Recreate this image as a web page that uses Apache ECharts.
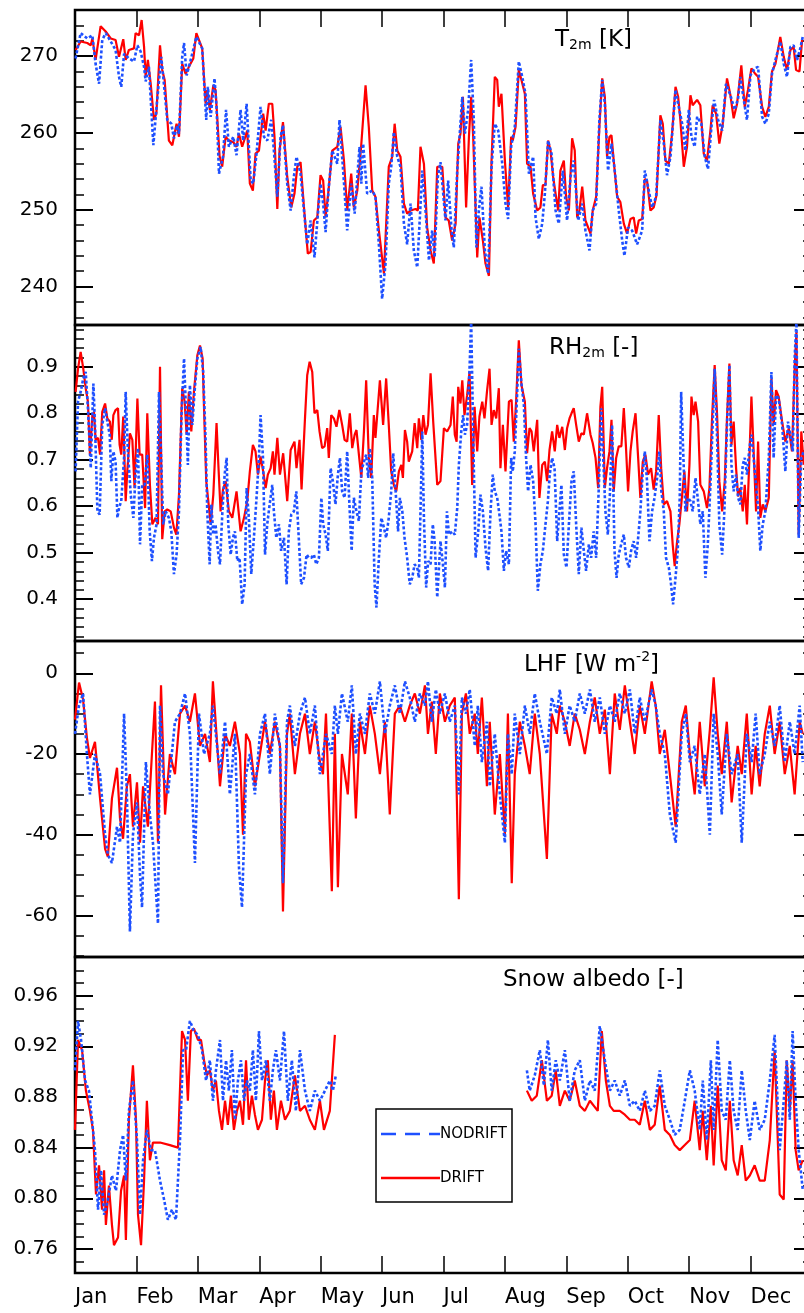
<!DOCTYPE html>
<html><head><meta charset="utf-8">
<script src="https://cdn.jsdelivr.net/npm/echarts@6/dist/echarts.min.js"></script>
<style>html,body{margin:0;padding:0;background:#fff}#c{width:804px;height:1313px}</style>
</head><body><div id="c"></div>
<script>
const months = ['Jan','Feb','Mar','Apr','May','Jun','Jul','Aug','Sep','Oct','Nov','Dec'];
const seriesNames = ['NODRIFT','DRIFT'];

const t2mDrift = [[0.3,270.8],[2.8,271.9],[6.1,271.7],[7.8,271.4],[8.6,272.3],[10.2,269.5],[12.7,273.9],[15.2,273.2],[17.7,272.3],[20.1,272.1],[21.8,269.9],[23.9,272.2],[25.1,269.5],[26.7,270.8],[29.2,271.0],[30.0,273.0],[31.7,272.7],[33.0,274.7],[34.2,271.2],[35.0,267.3],[36.1,269.5],[37.5,266.4],[39.1,261.7],[40.3,262.5],[42.1,271.4],[43.2,268.2],[44.4,266.9],[46.5,259.0],[48.2,258.4],[49.0,258.6],[50.3,261.2],[51.5,259.5],[53.1,269.0],[54.8,267.7],[56.4,268.6],[58.6,269.7],[60.1,273.0],[63.0,271.0],[64.7,263.8],[65.5,265.6],[66.8,263.0],[68.5,266.2],[69.6,265.6],[71.6,257.0],[72.9,255.6],[74.6,259.5],[76.2,259.0],[78.4,258.8],[80.0,258.2],[81.2,259.9],[82.8,258.2],[85.3,260.3],[86.6,253.4],[88.1,252.5],[89.4,257.3],[91.1,257.7],[93.2,262.5],[94.4,260.3],[96.0,263.8],[97.7,263.8],[98.8,259.5],[100.2,250.1],[101.3,257.7],[103.0,261.4],[105.1,254.3],[107.1,250.3],[108.7,252.1],[110.1,255.6],[111.7,256.2],[113.4,250.3],[115.3,244.3],[116.7,244.5],[118.3,248.6],[120.0,249.0],[121.6,254.5],[122.9,253.8],[124.1,249.0],[125.4,252.1],[127.4,257.7],[129.9,258.2],[131.5,260.8],[133.2,256.4],[134.8,249.9],[136.8,254.7],[138.1,250.3],[139.8,252.5],[141.7,258.2],[143.9,266.2],[145.5,260.8],[147.2,252.5],[148.8,251.7],[150.5,247.3],[153.0,241.7],[155.4,255.6],[157.1,256.9],[158.3,261.2],[159.6,257.7],[161.2,256.9],[162.9,250.8],[164.5,249.5],[166.2,249.9],[168.6,250.1],[169.8,249.9],[171.1,258.2],[172.8,256.0],[174.4,247.7],[176.1,244.7],[177.7,243.0],[179.4,255.6],[181.9,255.6],[183.5,249.0],[185.1,248.6],[186.8,246.0],[188.5,248.2],[189.8,258.6],[190.9,259.9],[192.1,264.7],[193.7,250.3],[195.1,259.5],[196.2,264.7],[197.2,259.5],[199.2,243.8],[200.3,249.0],[202.0,246.0],[203.3,243.0],[205.0,241.4],[206.3,256.4],[207.9,267.3],[209.1,266.9],[209.9,263.4],[211.2,265.1],[212.9,256.4],[214.5,250.3],[216.0,259.5],[216.8,259.0],[218.2,260.8],[219.8,268.2],[221.1,266.9],[222.8,265.1],[223.9,256.0],[225.6,255.6],[226.9,252.1],[228.9,249.9],[230.5,250.3],[231.7,253.2],[233.0,253.2],[234.3,259.0],[235.5,257.7],[236.8,254.3],[238.0,252.1],[239.3,249.9],[240.4,255.1],[242.1,256.4],[243.2,251.7],[244.6,249.9],[246.2,259.3],[247.5,257.7],[248.7,249.0],[249.8,249.9],[251.2,253.0],[252.8,248.6],[255.3,246.9],[256.4,249.9],[258.1,251.7],[259.7,260.8],[261.1,267.1],[262.4,264.7],[263.5,256.9],[264.7,259.5],[265.7,259.7],[266.8,256.4],[268.5,251.7],[270.1,251.0],[271.8,248.2],[273.4,246.9],[275.1,248.8],[276.7,249.0],[277.9,246.9],[279.2,248.6],[280.9,248.8],[282.2,254.0],[283.3,253.8],[285.0,249.9],[286.6,250.3],[288.0,251.9],[289.9,262.3],[291.1,261.2],[292.4,256.4],[294.1,256.0],[295.7,259.9],[297.4,266.0],[298.7,264.7],[299.8,261.7],[301.5,255.6],[303.1,258.2],[304.8,264.9],[305.9,263.6],[308.1,264.3],[309.7,263.6],[311.4,257.3],[313.0,256.4],[314.7,260.3],[315.8,263.6],[317.5,262.5],[319.1,258.6],[320.8,261.2],[322.9,267.1],[324.6,264.9],[326.2,261.9],[327.9,263.8],[330.0,268.8],[331.7,263.4],[333.3,265.6],[335.0,268.4],[336.9,267.7],[338.3,267.3],[340.3,263.4],[341.9,262.1],[343.6,263.4],[345.2,268.0],[346.9,269.0],[349.3,272.5],[351.0,269.9],[352.6,268.2],[354.3,270.8],[355.9,271.2],[357.1,268.2],[358.8,268.0],[360.1,272.1]];

const t2mNodrift = [[0.3,269.7],[2.8,273.0],[6.1,272.3],[8.6,272.7],[10.2,269.0],[11.9,266.4],[13.5,272.1],[15.2,273.0],[17.7,271.9],[20.1,270.8],[21.8,267.3],[22.9,266.0],[24.3,270.3],[26.7,269.7],[29.2,269.3],[30.9,271.4],[32.5,270.6],[34.2,268.6],[35.0,266.7],[36.6,268.6],[38.8,258.4],[40.4,263.4],[42.7,269.9],[43.7,267.3],[45.7,261.7],[47.7,261.2],[49.0,259.3],[50.7,261.0],[51.5,259.9],[53.1,269.9],[54.0,271.7],[55.3,267.5],[57.3,269.5],[60.1,272.5],[63.0,271.0],[65.0,261.7],[65.8,266.0],[67.2,262.1],[69.1,267.1],[70.1,263.4],[71.3,254.7],[73.3,256.9],[74.8,263.0],[76.2,258.2],[78.4,259.5],[80.0,257.1],[82.0,263.0],[83.3,259.0],[85.0,263.8],[87.0,253.8],[88.3,253.4],[89.9,257.3],[91.9,263.4],[93.6,259.5],[95.2,259.0],[97.2,261.7],[98.5,257.7],[100.2,251.7],[101.8,259.5],[103.0,261.0],[105.1,253.4],[106.8,249.9],[108.4,254.3],[109.7,256.9],[111.7,254.7],[113.4,249.9],[115.0,245.5],[116.7,248.6],[118.6,243.8],[120.3,249.5],[121.6,253.4],[122.9,250.8],[124.1,247.1],[125.7,253.0],[127.4,257.7],[129.9,256.0],[131.0,261.7],[132.8,255.1],[134.8,247.3],[136.8,253.4],[138.5,249.5],[140.9,258.2],[141.8,253.4],[142.7,258.6],[144.7,252.1],[147.2,252.5],[148.8,251.7],[150.5,245.5],[152.1,238.4],[153.8,243.0],[155.4,253.4],[156.6,255.6],[157.9,260.1],[159.6,256.9],[161.2,255.6],[162.9,248.2],[164.5,245.5],[166.2,250.8],[167.8,244.7],[169.5,242.5],[172.0,255.1],[173.6,249.9],[175.3,243.4],[176.9,247.3],[178.1,243.8],[179.7,254.3],[181.0,256.2],[183.5,248.6],[184.8,253.8],[186.5,247.3],[187.6,245.1],[189.3,255.1],[191.8,264.7],[193.1,259.9],[194.7,263.0],[196.2,269.5],[197.5,261.7],[198.8,245.1],[200.0,249.9],[201.3,253.0],[203.0,244.7],[204.6,241.7],[206.3,255.6],[207.9,261.2],[209.6,260.3],[211.6,256.0],[213.2,250.8],[214.5,248.8],[216.0,258.2],[217.8,260.8],[219.8,269.3],[221.5,267.3],[223.1,265.1],[224.8,254.7],[226.9,256.9],[228.1,249.0],[229.7,246.2],[231.4,248.2],[232.7,252.1],[234.3,259.0],[236.0,257.3],[238.0,249.9],[239.6,248.2],[241.6,255.1],[243.7,248.6],[245.4,254.3],[247.0,256.4],[249.2,248.6],[251.2,250.8],[252.8,247.3],[254.8,244.7],[256.4,249.9],[258.1,250.8],[259.7,261.7],[261.1,266.9],[262.4,263.8],[264.0,255.1],[265.7,258.6],[267.3,255.1],[269.3,249.9],[271.0,246.0],[272.1,244.0],[273.9,247.7],[275.9,247.3],[278.4,245.5],[280.9,247.3],[282.2,255.1],[283.8,253.0],[285.8,250.3],[287.8,251.7],[289.9,261.7],[291.6,258.6],[293.2,254.5],[294.9,256.9],[297.4,265.6],[299.0,263.4],[300.7,261.2],[302.3,257.7],[304.0,263.0],[305.3,259.5],[306.9,258.2],[308.1,262.1],[310.2,261.2],[311.9,256.9],[313.5,255.3],[315.2,260.8],[316.5,264.3],[318.5,261.7],[320.5,260.3],[322.4,266.4],[324.6,264.9],[326.7,263.0],[328.4,264.5],[329.5,267.3],[331.2,264.3],[332.8,261.7],[334.5,267.5],[336.6,268.4],[338.3,268.6],[340.3,262.1],[341.9,261.2],[343.6,262.5],[345.2,267.7],[346.9,269.5],[349.3,271.9],[351.0,269.0],[352.6,267.3],[354.3,271.2],[355.9,271.4],[357.6,269.5],[359.2,271.0],[360.4,272.5]];

const rhDrift = [[0.3,0.846],[1.5,0.896],[2.8,0.932],[4.1,0.896],[5.3,0.854],[6.4,0.825],[7.4,0.711],[8.6,0.796],[9.4,0.803],[10.2,0.743],[11.4,0.747],[12.4,0.711],[13.5,0.803],[14.9,0.821],[16.0,0.789],[17.3,0.782],[18.2,0.743],[19.0,0.796],[20.1,0.807],[21.3,0.811],[22.1,0.732],[22.9,0.711],[23.9,0.793],[25.1,0.611],[25.9,0.675],[27.2,0.757],[28.4,0.743],[29.5,0.639],[30.9,0.832],[32.0,0.711],[33.3,0.711],[34.7,0.596],[35.8,0.800],[37.1,0.646],[38.3,0.561],[39.9,0.575],[41.1,0.561],[42.1,0.900],[43.2,0.529],[44.4,0.589],[45.7,0.593],[47.4,0.589],[49.0,0.554],[50.2,0.539],[51.5,0.625],[53.1,0.854],[54.3,0.825],[55.3,0.754],[56.4,0.846],[57.6,0.761],[58.9,0.846],[60.6,0.925],[61.9,0.946],[63.2,0.918],[63.9,0.811],[65.0,0.654],[65.8,0.657],[67.2,0.561],[68.5,0.625],[70.1,0.779],[71.0,0.689],[72.1,0.589],[73.3,0.636],[74.6,0.654],[76.2,0.589],[77.9,0.575],[80.0,0.632],[82.0,0.546],[83.7,0.575],[85.3,0.611],[86.6,0.675],[88.1,0.732],[89.4,0.718],[90.6,0.668],[91.9,0.707],[93.2,0.675],[94.4,0.639],[95.5,0.668],[96.9,0.682],[98.0,0.718],[98.8,0.668],[100.2,0.747],[101.5,0.668],[103.1,0.714],[105.1,0.611],[106.8,0.721],[108.7,0.739],[109.7,0.682],[111.2,0.743],[112.2,0.636],[113.9,0.789],[115.0,0.882],[116.2,0.911],[117.5,0.889],[118.6,0.800],[120.0,0.807],[121.1,0.761],[122.4,0.725],[123.6,0.729],[124.9,0.768],[125.7,0.704],[126.9,0.796],[128.2,0.789],[129.5,0.771],[130.9,0.807],[132.3,0.775],[133.5,0.743],[134.8,0.739],[136.1,0.800],[137.3,0.725],[138.5,0.754],[139.4,0.764],[140.6,0.711],[141.8,0.661],[143.1,0.761],[144.2,0.871],[145.5,0.704],[146.7,0.661],[148.0,0.796],[148.8,0.747],[151.0,0.871],[152.6,0.775],[154.1,0.875],[155.4,0.775],[156.6,0.675],[157.9,0.646],[159.1,0.632],[160.4,0.675],[161.6,0.689],[162.4,0.661],[163.4,0.764],[164.5,0.739],[165.3,0.696],[167.0,0.718],[168.2,0.779],[169.5,0.725],[170.3,0.789],[171.5,0.743],[172.5,0.796],[173.6,0.754],[174.8,0.775],[176.1,0.886],[177.4,0.782],[178.2,0.786],[179.4,0.646],[181.0,0.654],[182.7,0.768],[184.3,0.761],[186.0,0.775],[187.1,0.836],[188.1,0.754],[189.0,0.739],[189.8,0.857],[190.9,0.821],[191.8,0.871],[192.9,0.796],[194.2,0.839],[195.4,0.889],[196.7,0.646],[197.9,0.814],[199.2,0.718],[200.3,0.793],[201.7,0.825],[202.8,0.789],[204.1,0.850],[205.3,0.896],[206.3,0.775],[207.4,0.807],[208.6,0.789],[209.9,0.854],[210.7,0.682],[211.9,0.775],[213.2,0.675],[214.9,0.825],[216.2,0.829],[217.3,0.739],[218.5,0.829],[219.8,0.957],[221.1,0.861],[222.8,0.825],[223.9,0.714],[225.1,0.768],[226.1,0.761],[227.2,0.718],[228.9,0.786],[230.0,0.618],[231.4,0.689],[232.7,0.696],[233.8,0.654],[235.0,0.721],[236.3,0.761],[237.6,0.718],[238.8,0.775],[239.9,0.747],[241.3,0.771],[242.6,0.721],[243.7,0.768],[244.9,0.789],[245.9,0.800],[247.0,0.811],[248.2,0.775],[249.5,0.739],[250.8,0.757],[252.0,0.754],[253.6,0.800],[255.3,0.754],[256.4,0.736],[257.8,0.704],[259.1,0.639],[260.2,0.814],[261.1,0.857],[262.4,0.639],[263.5,0.682],[264.7,0.718],[265.7,0.786],[266.8,0.632],[268.0,0.704],[269.3,0.729],[270.6,0.729],[271.8,0.811],[272.9,0.725],[273.9,0.632],[275.1,0.718],[276.2,0.761],[277.6,0.800],[278.9,0.704],[280.0,0.618],[281.2,0.696],[282.5,0.711],[283.8,0.668],[285.3,0.682],[286.6,0.636],[287.8,0.675],[289.1,0.796],[290.3,0.682],[291.6,0.604],[293.2,0.611],[294.9,0.589],[296.0,0.518],[297.0,0.471],[298.2,0.525],[299.3,0.561],[300.7,0.625],[301.8,0.675],[303.1,0.589],[304.3,0.689],[305.3,0.836],[306.4,0.796],[307.3,0.825],[308.6,0.782],[309.7,0.646],[311.4,0.632],[313.0,0.596],[314.2,0.639],[315.5,0.789],[316.8,0.904],[318.0,0.796],[319.1,0.654],[320.5,0.589],[321.8,0.654],[322.9,0.789],[324.1,0.907],[325.1,0.732],[326.2,0.782],[327.4,0.682],[328.4,0.621],[329.5,0.639],[330.7,0.589],[331.7,0.646],[332.8,0.561],[334.0,0.704],[335.0,0.836],[336.1,0.718],[337.3,0.589],[338.3,0.739],[339.4,0.575],[340.6,0.604],[341.9,0.589],[343.6,0.618],[344.9,0.875],[346.0,0.775],[347.2,0.850],[348.5,0.836],[350.2,0.782],[351.8,0.739],[353.5,0.768],[355.1,0.718],[356.4,0.896],[357.3,0.975],[358.4,0.539],[359.7,0.761],[360.9,0.689]];

const rhNodrift = [[0.3,0.675],[1.5,0.825],[2.8,0.846],[4.1,0.875],[5.3,0.889],[6.4,0.811],[7.8,0.682],[9.1,0.864],[9.9,0.775],[11.1,0.589],[12.2,0.582],[13.5,0.775],[14.9,0.811],[16.0,0.782],[17.2,0.754],[18.0,0.654],[19.0,0.718],[20.1,0.696],[21.0,0.575],[21.8,0.596],[22.9,0.611],[24.3,0.704],[25.1,0.846],[26.2,0.718],[27.6,0.625],[28.9,0.575],[30.0,0.668],[31.2,0.725],[32.2,0.518],[33.3,0.646],[34.5,0.646],[35.8,0.711],[37.0,0.546],[38.1,0.482],[39.1,0.532],[40.4,0.561],[41.6,0.846],[42.4,0.739],[43.7,0.561],[44.9,0.589],[46.5,0.575],[47.7,0.546],[49.0,0.454],[50.3,0.496],[51.5,0.589],[52.8,0.804],[54.0,0.918],[55.1,0.789],[55.9,0.689],[56.9,0.861],[58.1,0.775],[59.2,0.846],[60.6,0.918],[62.2,0.943],[63.5,0.889],[64.7,0.739],[65.5,0.589],[66.7,0.475],[67.5,0.604],[68.5,0.539],[69.6,0.561],[70.8,0.504],[71.8,0.475],[73.0,0.589],[74.1,0.668],[75.1,0.704],[75.9,0.561],[77.1,0.496],[78.2,0.532],[79.2,0.546],[80.4,0.482],[81.5,0.489],[82.8,0.389],[84.0,0.432],[85.0,0.639],[86.1,0.575],[87.3,0.454],[88.6,0.532],[89.9,0.618],[91.1,0.704],[91.9,0.796],[93.1,0.704],[94.1,0.496],[95.2,0.561],[96.4,0.604],[97.7,0.646],[98.5,0.589],[99.7,0.532],[101.0,0.561],[102.1,0.504],[103.5,0.532],[104.8,0.432],[105.9,0.546],[107.1,0.582],[108.4,0.589],[109.6,0.632],[110.9,0.525],[112.0,0.432],[113.4,0.446],[114.7,0.496],[115.8,0.489],[117.0,0.489],[118.3,0.496],[119.5,0.475],[120.8,0.489],[122.0,0.618],[122.9,0.561],[124.1,0.539],[125.2,0.504],[126.6,0.682],[127.7,0.654],[129.0,0.604],[130.2,0.668],[131.2,0.704],[132.3,0.632],[133.5,0.618],[134.8,0.718],[135.9,0.604],[137.0,0.504],[138.1,0.618],[139.4,0.589],[140.6,0.568],[141.8,0.675],[143.1,0.696],[144.2,0.711],[145.2,0.661],[146.0,0.725],[147.2,0.661],[148.4,0.432],[149.3,0.382],[150.5,0.489],[151.7,0.575],[153.0,0.554],[154.1,0.532],[155.4,0.575],[156.6,0.632],[157.6,0.714],[158.8,0.632],[160.0,0.546],[160.9,0.618],[162.1,0.589],[163.2,0.532],[164.5,0.489],[165.8,0.432],[167.0,0.446],[168.2,0.475],[169.5,0.468],[170.3,0.446],[171.1,0.589],[172.0,0.761],[172.8,0.575],[173.9,0.425],[174.9,0.482],[176.1,0.475],[177.2,0.561],[178.1,0.525],[179.4,0.404],[181.0,0.525],[182.2,0.475],[183.2,0.425],[184.2,0.589],[185.2,0.539],[186.8,0.546],[188.1,0.539],[189.3,0.596],[190.1,0.689],[191.3,0.761],[192.2,0.796],[193.1,0.754],[194.2,0.775],[195.4,0.896],[196.2,1.0],[197.2,0.754],[198.4,0.489],[199.7,0.546],[200.8,0.625],[202.0,0.589],[203.3,0.511],[204.6,0.461],[205.8,0.589],[206.9,0.668],[207.9,0.632],[209.1,0.618],[210.2,0.582],[211.2,0.546],[212.4,0.461],[213.5,0.504],[214.9,0.475],[216.0,0.704],[216.8,0.675],[217.8,0.718],[219.0,0.846],[219.8,0.939],[221.0,0.868],[222.3,0.818],[223.4,0.704],[224.4,0.632],[225.6,0.689],[226.9,0.654],[228.1,0.561],[229.2,0.418],[230.5,0.475],[231.7,0.504],[233.0,0.561],[234.2,0.611],[235.1,0.668],[236.3,0.704],[237.5,0.682],[238.8,0.525],[239.9,0.589],[240.9,0.646],[242.1,0.496],[243.4,0.468],[244.6,0.561],[245.9,0.654],[247.0,0.675],[248.2,0.561],[249.5,0.454],[250.8,0.554],[252.0,0.504],[253.1,0.461],[254.5,0.518],[255.6,0.489],[256.9,0.546],[258.1,0.489],[259.4,0.639],[260.6,0.811],[261.6,0.704],[262.7,0.589],[263.9,0.539],[264.9,0.625],[266.0,0.775],[267.2,0.504],[268.2,0.446],[269.3,0.496],[270.5,0.518],[271.8,0.539],[272.9,0.489],[274.3,0.468],[275.4,0.504],[276.7,0.525],[277.9,0.489],[278.9,0.532],[280.0,0.589],[281.2,0.675],[282.2,0.718],[283.3,0.654],[284.5,0.525],[285.8,0.589],[287.0,0.618],[288.3,0.661],[289.4,0.718],[290.4,0.632],[291.6,0.589],[292.7,0.489],[294.1,0.468],[295.2,0.432],[296.2,0.389],[297.4,0.446],[298.5,0.504],[299.5,0.618],[300.2,0.846],[301.2,0.718],[302.3,0.589],[303.5,0.618],[304.8,0.611],[305.9,0.589],[307.3,0.661],[308.4,0.618],[309.7,0.561],[310.9,0.589],[312.2,0.446],[313.4,0.518],[314.7,0.646],[315.8,0.775],[316.8,0.896],[318.0,0.747],[319.1,0.561],[320.5,0.496],[321.6,0.589],[322.9,0.775],[324.1,0.904],[325.1,0.689],[326.2,0.632],[327.4,0.668],[328.4,0.618],[329.5,0.604],[330.7,0.689],[331.7,0.704],[332.8,0.668],[334.0,0.725],[335.0,0.754],[336.1,0.704],[337.3,0.646],[338.3,0.596],[339.4,0.504],[340.6,0.561],[341.9,0.589],[343.6,0.704],[344.9,0.889],[346.0,0.704],[347.2,0.839],[348.5,0.832],[350.2,0.775],[351.8,0.675],[353.1,0.782],[354.3,0.754],[355.5,0.718],[356.4,0.918],[357.3,1.0],[358.4,0.532],[359.7,0.704],[360.9,0.718]];

const lhfDrift = [[0,-11.5],[2.0,-2.3],[4.0,-6.5],[5.9,-16],[7.4,-21],[9.9,-17],[12.4,-31],[14.9,-43.5],[16.3,-45.5],[18.3,-31],[20.8,-23.4],[22.3,-36],[23.8,-41],[25.7,-28],[27.2,-25],[28.7,-38],[30.7,-27],[32.2,-42],[33.7,-28],[36.1,-38],[38.1,-20],[39.6,-7],[41.1,-42],[42.6,-3],[44.6,-35],[47.0,-20],[49.5,-25],[52.0,-10],[54.5,-8],[56.9,-12],[59.4,-5],[61.9,-18],[64.4,-15],[66.8,-22],[68.3,-2],[71.8,-28],[74.3,-15],[76.7,-18],[79.2,-12],[81.7,-20],[83.2,-40],[84.7,-15],[86.6,-17],[89.1,-28],[91.6,-20],[94.1,-12],[96.5,-20],[99.0,-12],[101.5,-18],[103.0,-59],[105.0,-15],[106.4,-10],[108.9,-25],[111.4,-15],[113.9,-10],[116.3,-20],[118.8,-12],[121.3,-22],[122.8,-25],[124.3,-10],[127.2,-54],[128.7,-15],[130.2,-53],[132.2,-20],[135.1,-30],[137.1,-10],[139.1,-36],[141.1,-12],[143.6,-20],[146.0,-8],[148.5,-15],[151.0,-25],[153.5,-12],[155.9,-35],[158.4,-10],[160.9,-8],[163.4,-12],[165.8,-8],[168.3,-5],[170.8,-10],[173.3,-3],[174.8,-15],[176.7,-7],[178.7,-20],[180.7,-5],[183.2,-12],[185.6,-8],[188.1,-6],[190.1,-56],[191.6,-10],[193.6,-5],[195.5,-15],[198.0,-10],[199.5,-20],[201.5,-6],[204.0,-28],[205.4,-12],[207.9,-35],[210.4,-20],[212.9,-40],[214.4,-10],[216.3,-52],[217.8,-25],[220.3,-12],[222.8,-18],[225.2,-25],[227.7,-10],[230.2,-20],[233.7,-46],[236.1,-10],[238.6,-15],[240.1,-8],[242.6,-12],[245.0,-18],[247.5,-10],[250.0,-14],[252.5,-20],[255.0,-12],[257.4,-6],[259.9,-15],[262.4,-9],[264.9,-25],[267.3,-5],[269.8,-14],[272.3,-3],[274.8,-12],[277.2,-20],[279.7,-8],[282.2,-15],[285.6,-2],[287.6,-8],[289.6,-20],[292.1,-14],[294.6,-25],[297.5,-38],[300.5,-12],[302.5,-8],[304.5,-20],[306.9,-30],[309.4,-12],[311.9,-28],[314.4,-14],[316.3,-1],[318.3,-15],[320.3,-25],[322.8,-12],[325.2,-32],[328.2,-18],[330.2,-25],[332.7,-10],[335.1,-30],[337.1,-18],[339.1,-28],[341.6,-15],[344.1,-8],[346.5,-20],[349.0,-12],[351.5,-25],[354.0,-18],[356.4,-30],[358.9,-12],[360.4,-15]];

const lhfNodrift = [[0,-15],[2.0,-8],[4.0,-5],[5.9,-20],[7.4,-30],[9.9,-20],[12.4,-25],[14.9,-40],[16.3,-45],[18.3,-47],[20.8,-38],[22.3,-42],[24.3,-10],[25.7,-30],[27.2,-64],[28.7,-40],[30.7,-32],[32.2,-50],[33.2,-58],[35.1,-22],[37.1,-35],[38.6,-42],[41.1,-62],[42.1,-8],[43.6,-25],[46.0,-30],[49.5,-12],[52.0,-10],[54.5,-5],[56.9,-15],[59.4,-47],[61.4,-10],[63.9,-20],[66.8,-15],[68.3,-8],[71.8,-25],[74.3,-12],[76.7,-30],[79.2,-15],[81.2,-48],[82.7,-58],[84.7,-25],[86.6,-20],[89.1,-30],[91.6,-15],[94.1,-10],[96.5,-25],[99.0,-10],[101.5,-18],[103.0,-52],[105.0,-12],[106.4,-8],[108.9,-18],[111.4,-10],[113.9,-6],[116.3,-15],[118.8,-8],[121.3,-25],[124.3,-15],[127.2,-20],[128.7,-8],[130.2,-15],[132.2,-5],[135.1,-12],[137.1,-3],[139.1,-20],[141.1,-10],[143.6,-15],[146.0,-5],[148.5,-10],[151.0,-2],[153.5,-15],[155.9,-8],[158.4,-3],[160.9,-10],[163.4,-2],[165.8,-6],[168.3,-12],[170.8,-5],[173.3,-8],[174.8,-2],[176.7,-12],[178.7,-4],[180.7,-10],[183.2,-5],[185.6,-12],[188.1,-8],[190.1,-30],[191.6,-6],[193.6,-10],[195.5,-4],[198.0,-18],[199.5,-8],[201.5,-22],[204.0,-12],[205.4,-28],[207.9,-15],[210.4,-30],[212.9,-42],[214.4,-15],[216.3,-25],[217.8,-10],[220.3,-20],[222.8,-8],[225.2,-15],[227.7,-5],[230.2,-12],[233.7,-20],[236.1,-6],[238.6,-10],[240.1,-4],[242.6,-15],[245.0,-8],[247.5,-12],[250.0,-5],[252.5,-10],[255.0,-4],[257.4,-12],[259.9,-6],[262.4,-15],[264.9,-8],[267.3,-12],[269.8,-5],[272.3,-10],[274.8,-4],[277.2,-15],[279.7,-6],[282.2,-12],[285.6,-4],[287.6,-8],[289.6,-15],[292.1,-20],[294.6,-35],[297.5,-42],[300.5,-15],[302.5,-10],[304.5,-22],[306.9,-18],[309.4,-30],[311.9,-20],[314.4,-40],[316.3,-10],[318.3,-20],[320.3,-35],[322.8,-15],[325.2,-25],[328.2,-20],[330.2,-42],[332.7,-15],[335.1,-22],[337.1,-10],[339.1,-25],[341.6,-20],[344.1,-12],[346.5,-18],[349.0,-8],[351.5,-22],[354.0,-12],[356.4,-20],[358.9,-8],[360.4,-22]];

const albDrift = [[0,0.854],[1.5,0.925],[3.5,0.917],[5.4,0.885],[7.4,0.869],[8.9,0.854],[10.4,0.803],[11.9,0.826],[13.4,0.791],[14.4,0.822],[15.3,0.779],[16.8,0.810],[18.3,0.779],[19.3,0.763],[21.3,0.769],[22.8,0.806],[24.3,0.818],[25.2,0.767],[26.7,0.862],[28.7,0.905],[30.2,0.862],[31.2,0.787],[32.7,0.763],[34.2,0.814],[35.6,0.877],[37.1,0.830],[38.6,0.844],[42.1,0.844],[47.0,0.842],[51.0,0.840],[53.0,0.932],[54.5,0.925],[55.9,0.877],[57.4,0.932],[58.9,0.934],[60.9,0.925],[62.4,0.925],[63.9,0.909],[65.3,0.897],[66.8,0.901],[68.3,0.885],[69.8,0.893],[71.3,0.869],[72.8,0.854],[74.3,0.877],[75.7,0.858],[77.2,0.881],[78.7,0.854],[80.2,0.869],[81.7,0.877],[83.2,0.858],[84.7,0.909],[86.1,0.862],[87.6,0.881],[89.1,0.866],[90.6,0.854],[92.6,0.862],[94.1,0.893],[95.5,0.909],[97.0,0.862],[98.5,0.885],[100.0,0.854],[102.0,0.877],[104.0,0.862],[106.4,0.869],[108.9,0.897],[111.4,0.869],[113.9,0.873],[116.3,0.862],[118.8,0.854],[121.3,0.877],[123.3,0.854],[126.2,0.869],[128.7,0.929],[175,null],[223.8,0.885],[226.2,0.877],[228.7,0.881],[231.2,0.909],[233.7,0.877],[236.1,0.881],[238.1,0.901],[240.1,0.873],[242.6,0.885],[245.0,0.877],[247.5,0.893],[250.0,0.873],[252.5,0.869],[255.0,0.877],[258.9,0.869],[260.9,0.932],[262.9,0.893],[264.9,0.873],[266.8,0.869],[269.8,0.869],[272.3,0.866],[274.8,0.862],[277.2,0.862],[279.7,0.858],[282.2,0.877],[284.7,0.854],[287.1,0.858],[289.6,0.889],[292.1,0.854],[294.6,0.850],[297.0,0.842],[299.5,0.838],[302.0,0.842],[304.5,0.846],[306.9,0.877],[309.4,0.838],[310.9,0.869],[312.9,0.830],[314.9,0.873],[316.3,0.826],[318.3,0.889],[320.3,0.830],[322.3,0.822],[324.3,0.877],[326.2,0.830],[328.2,0.818],[330.2,0.842],[332.2,0.814],[334.2,0.818],[336.6,0.826],[339.1,0.814],[341.6,0.814],[344.1,0.846],[346.5,0.917],[349.0,0.803],[351.0,0.799],[352.5,0.909],[354.0,0.869],[355.4,0.909],[356.9,0.838],[358.4,0.822],[360.4,0.830]];

const albNodrift = [[0,0.901],[1.5,0.940],[3.0,0.925],[5.0,0.893],[6.9,0.885],[8.4,0.862],[9.9,0.838],[11.4,0.791],[12.9,0.822],[14.4,0.787],[16.3,0.799],[18.3,0.818],[20.3,0.806],[22.3,0.838],[23.8,0.850],[25.2,0.814],[26.7,0.869],[28.7,0.893],[30.7,0.846],[32.2,0.787],[33.7,0.830],[35.6,0.854],[37.6,0.838],[39.6,0.838],[42.1,0.814],[44.1,0.799],[46.0,0.783],[48.0,0.791],[50.0,0.783],[52.0,0.846],[53.5,0.917],[55.0,0.917],[56.9,0.940],[58.9,0.932],[60.9,0.929],[62.9,0.917],[64.9,0.893],[66.8,0.909],[68.3,0.877],[69.8,0.901],[71.8,0.925],[73.3,0.877],[74.8,0.909],[76.2,0.885],[77.7,0.917],[79.2,0.862],[80.7,0.893],[82.2,0.909],[83.7,0.877],[85.1,0.893],[86.6,0.885],[88.1,0.917],[89.6,0.877],[91.1,0.932],[92.6,0.893],[94.6,0.909],[96.5,0.877],[98.0,0.901],[99.5,0.917],[101.5,0.893],[103.5,0.932],[105.4,0.877],[107.4,0.909],[109.4,0.869],[111.4,0.917],[113.9,0.885],[116.3,0.869],[118.8,0.885],[121.3,0.877],[123.8,0.885],[126.2,0.893],[127.7,0.885],[129.2,0.897],[175,null],[223.8,0.901],[225.2,0.885],[227.7,0.897],[230.2,0.917],[232.2,0.889],[234.2,0.925],[236.1,0.885],[238.1,0.909],[240.1,0.893],[242.6,0.917],[245.0,0.877],[247.5,0.901],[250.0,0.909],[252.5,0.877],[255.0,0.893],[257.4,0.885],[259.9,0.936],[262.4,0.909],[264.9,0.885],[267.3,0.893],[269.8,0.881],[272.3,0.893],[274.8,0.873],[277.2,0.877],[279.7,0.869],[282.2,0.885],[284.7,0.869],[287.1,0.873],[289.6,0.901],[292.1,0.873],[294.6,0.862],[297.0,0.850],[299.5,0.854],[302.0,0.877],[304.5,0.901],[306.9,0.885],[309.4,0.854],[310.9,0.893],[312.9,0.846],[314.9,0.909],[316.3,0.854],[318.3,0.925],[320.3,0.869],[322.3,0.862],[324.3,0.909],[326.2,0.869],[328.2,0.854],[330.2,0.901],[332.2,0.869],[334.2,0.846],[336.6,0.877],[339.1,0.854],[341.6,0.862],[344.1,0.893],[346.5,0.929],[349.0,0.838],[351.0,0.877],[352.5,0.909],[354.0,0.862],[355.4,0.932],[356.9,0.877],[358.4,0.838],[360.4,0.807]];

function ticks(a, b, step) {
  const out = [];
  for (let k = Math.round(a / step); k <= Math.round(b / step); k++) out.push(+(k * step).toFixed(4));
  return out;
}

const FONT = '"DejaVu Sans", sans-serif';
const BLUE = '#1e50ff', RED = '#ff0000';
const GL = 75, GW = 737;

const panels = [
  { top: 10, height: 315, min: 235, max: 276, majors: [240, 250, 260, 270], minors: ticks(236, 274, 2), fmt: v => String(v), drift: t2mDrift, nodrift: t2mNodrift },
  { top: 325, height: 316, min: 0.31, max: 0.99, majors: [0.4, 0.5, 0.6, 0.7, 0.8, 0.9], minors: ticks(0.32, 0.98, 0.02), fmt: v => v.toFixed(1), drift: rhDrift, nodrift: rhNodrift },
  { top: 641, height: 316, min: -70.3, max: 8, majors: [-60, -40, -20, 0], minors: ticks(-70, 5, 5), fmt: v => String(v), drift: lhfDrift, nodrift: lhfNodrift },
  { top: 957, height: 316, min: 0.741, max: 0.9905, majors: [0.76, 0.80, 0.84, 0.88, 0.92, 0.96], minors: ticks(0.75, 0.98, 0.01), fmt: v => v.toFixed(2), drift: albDrift, nodrift: albNodrift }
];

const grid = [], xAxis = [], yAxis = [], series = [];
panels.forEach((p, i) => {
  grid.push({ left: GL, top: p.top, width: GW, height: p.height, outerBoundsMode: 'none', containLabel: false, show: true, borderColor: '#000', borderWidth: 2.5, backgroundColor: 'transparent' });
  const showTicks = (i === 0 || i === 3);
  xAxis.push({
    type: 'value', gridIndex: i, min: 0, max: 365, interval: 365 / 12,
    position: i === 0 ? 'top' : 'bottom',
    axisLine: { show: false }, splitLine: { show: false },
    axisTick: { show: showTicks, inside: true, length: 17, lineStyle: { color: '#000', width: 1.5 } },
    axisLabel: {
      show: i === 3, align: 'left', margin: 14, color: '#000', fontFamily: FONT, fontSize: 21,
      formatter: v => { const k = Math.round(v / (365 / 12)); return months[k] || ''; }
    }
  });
  const base = { type: 'value', gridIndex: i, min: p.min, max: p.max, axisLine: { show: false }, splitLine: { show: false } };
  yAxis.push(Object.assign({}, base, {
    position: 'left',
    axisTick: { inside: true, length: 18, customValues: p.majors, lineStyle: { color: '#000', width: 2 } },
    axisLabel: { customValues: p.majors, formatter: p.fmt, margin: 17, color: '#000', fontFamily: FONT, fontSize: 20 }
  }));
  yAxis.push(Object.assign({}, base, {
    position: 'left',
    axisTick: { inside: true, length: 9, customValues: p.minors, lineStyle: { color: '#000', width: 1.5 } },
    axisLabel: { show: false }
  }));
  yAxis.push(Object.assign({}, base, {
    position: 'right',
    axisTick: { inside: true, length: 18, customValues: p.majors, lineStyle: { color: '#000', width: 2 } },
    axisLabel: { show: false }
  }));
  yAxis.push(Object.assign({}, base, {
    position: 'right',
    axisTick: { inside: true, length: 9, customValues: p.minors, lineStyle: { color: '#000', width: 1.5 } },
    axisLabel: { show: false }
  }));
  series.push({
    name: seriesNames[1], type: 'line', xAxisIndex: i, yAxisIndex: 4 * i, data: p.drift,
    symbol: 'none', showSymbol: false, connectNulls: false, z: 2,
    lineStyle: { color: RED, width: 2.2 }
  });
  series.push({
    name: seriesNames[0], type: 'line', xAxisIndex: i, yAxisIndex: 4 * i, data: p.nodrift,
    symbol: 'none', showSymbol: false, connectNulls: false, z: 3,
    lineStyle: { color: BLUE, width: 2.6, type: [3, 2.2] }
  });
});

const titleRich = {
  a: { fontFamily: FONT, fontSize: 23, fontWeight: 'normal', lineHeight: 27, color: '#000', verticalAlign: 'bottom' },
  s: { fontFamily: FONT, fontSize: 14, fontWeight: 'normal', lineHeight: 8, color: '#000', verticalAlign: 'bottom' },
  u: { fontFamily: FONT, fontSize: 14, fontWeight: 'normal', lineHeight: 8, color: '#000', verticalAlign: 'top' }
};
const title = [
  { text: '{a|T}{s|2m}{a| [K]}', left: 555, top: 25 },
  { text: '{a|RH}{s|2m}{a| [-]}', left: 549, top: 333 },
  { text: '{a|LHF [W m}{u|-2}{a|]}', left: 524, top: 650 },
  { text: '{a|Snow albedo [-]}', left: 503, top: 965 }
].map(t => Object.assign(t, { padding: 0, textStyle: { fontWeight: 'normal', fontFamily: FONT, rich: titleRich } }));

const chart = echarts.init(document.getElementById('c'), null, { renderer: 'canvas' });
chart.setOption({
  animation: false,
  backgroundColor: '#fff',
  title, grid, xAxis, yAxis, series,
  graphic: [
    { type: 'rect', z: 100, shape: { x: 376, y: 1109, width: 136, height: 93 }, style: { fill: '#fff', stroke: '#000', lineWidth: 1.5 } },
    { type: 'line', z: 101, shape: { x1: 381, y1: 1134, x2: 440, y2: 1134 }, style: { stroke: BLUE, lineWidth: 2.5, lineDash: [15, 9] } },
    { type: 'line', z: 101, shape: { x1: 381, y1: 1178, x2: 440, y2: 1178 }, style: { stroke: RED, lineWidth: 2.5 } },
    { type: 'text', z: 101, x: 440, y: 1134, style: { text: seriesNames[0], font: '15px ' + FONT, fill: '#000', verticalAlign: 'middle' } },
    { type: 'text', z: 101, x: 440, y: 1178, style: { text: seriesNames[1], font: '15px ' + FONT, fill: '#000', verticalAlign: 'middle' } }
  ]
});
</script>
</body></html>
